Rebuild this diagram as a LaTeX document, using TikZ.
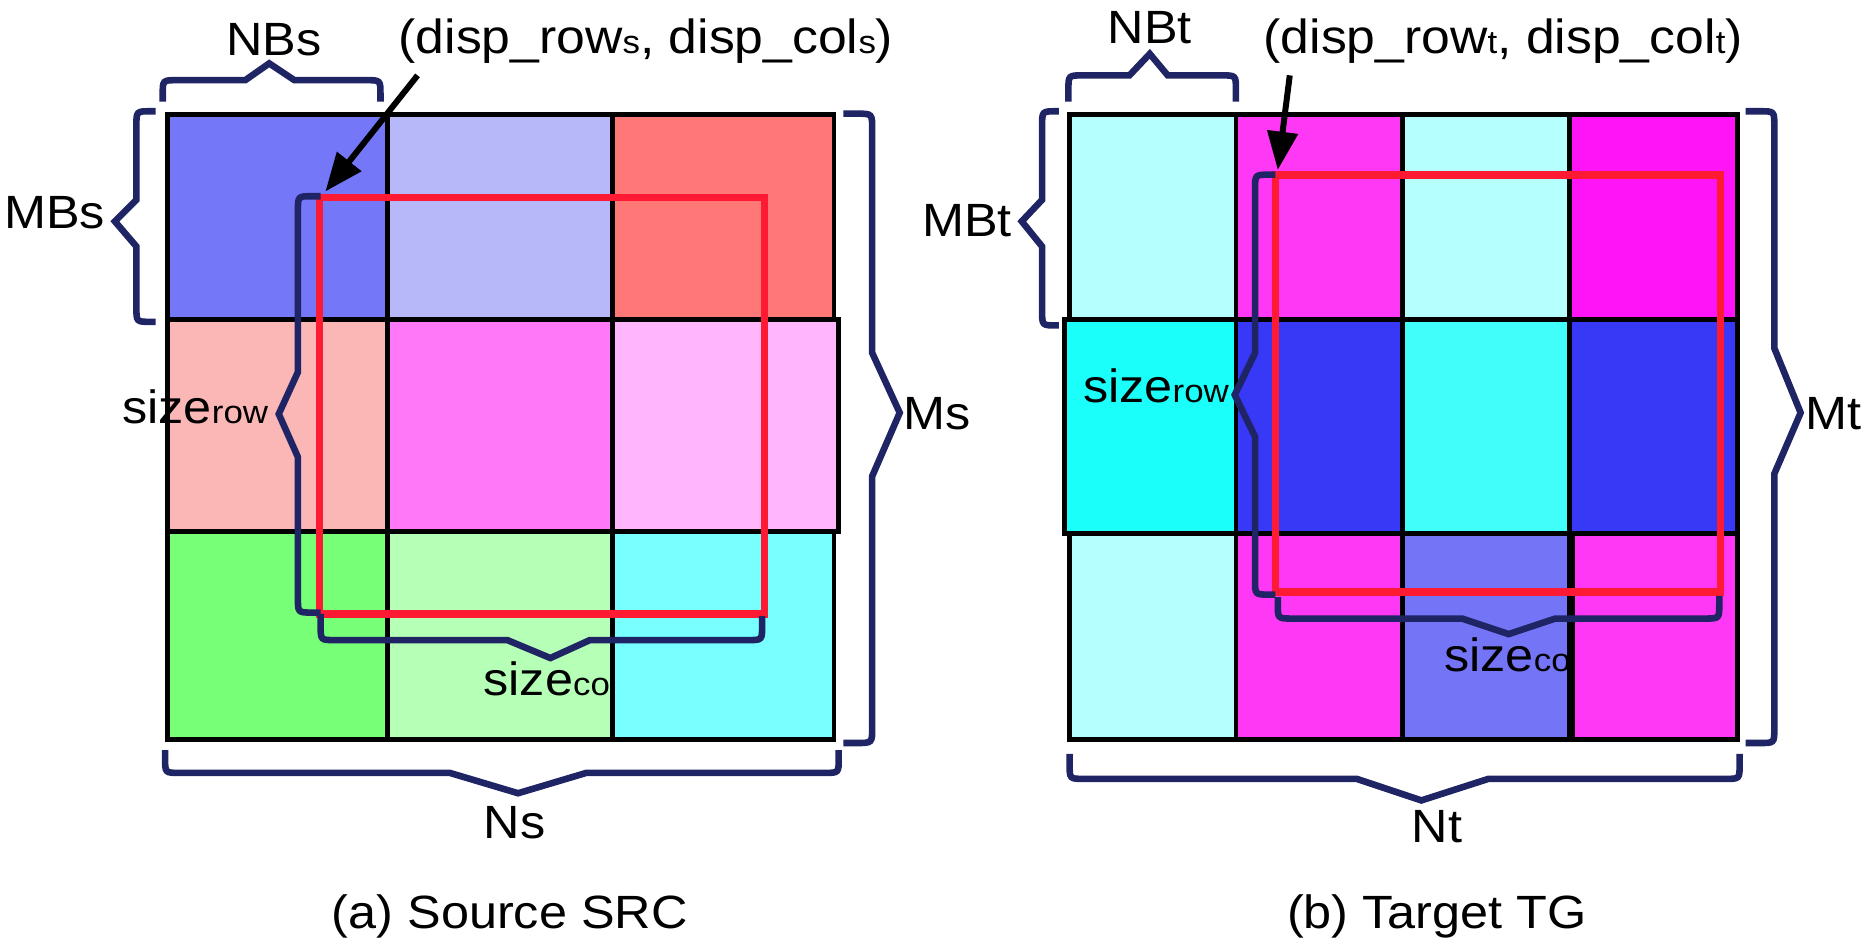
\documentclass[tikz,border=0pt]{standalone}
\usepackage{fontspec}
\setmainfont{Liberation Sans}[FakeStretch=1.08]
\usetikzlibrary{arrows.meta}
\definecolor{navyb}{RGB}{31,36,100}
\definecolor{redr}{RGB}{255,26,51}
\definecolor{sA}{RGB}{116,119,247}
\definecolor{sB}{RGB}{182,184,250}
\definecolor{sC}{RGB}{255,120,120}
\definecolor{sD}{RGB}{251,182,182}
\definecolor{sE}{RGB}{255,120,247}
\definecolor{sF}{RGB}{255,182,250}
\definecolor{sG}{RGB}{120,255,120}
\definecolor{sH}{RGB}{182,255,182}
\definecolor{sI}{RGB}{120,255,255}
\definecolor{tLC}{RGB}{182,255,255}
\definecolor{tMG}{RGB}{255,56,245}
\definecolor{tMB}{RGB}{255,20,247}
\definecolor{tCY}{RGB}{26,255,250}
\definecolor{tCZ}{RGB}{64,255,250}
\definecolor{tBL}{RGB}{56,56,247}
\definecolor{tPW}{RGB}{116,116,247}
\newcommand\mainsz{\fontsize{39}{45}\selectfont}
\newcommand\dispsz{\fontsize{40}{45}\selectfont}
\newcommand\subsz{\fontsize{27}{30}\selectfont}
\newcommand\subrow{\fontsize{27}{30}\selectfont}
\newcommand\cellbox[5]{\filldraw[cellst, fill=#5] (#1,#2) rectangle (#3,#4);}
\tikzset{
  cellst/.style={draw=black, line width=4pt},
  bracest/.style={draw=navyb, line width=5.5pt},
  redbox/.style={draw=redr, line width=6.5pt},
  ptr/.style={draw=black, line width=5pt, -{Triangle[length=32pt,width=25pt]}},
  lbl/.style={inner sep=0pt, font=\mainsz},
}
\begin{document}
\begin{tikzpicture}[x=1pt, y=-1pt]
\useasboundingbox (0,0) rectangle (1568,789);
% ---------------- left grid ----------------
\cellbox{140}{96}{324}{267}{sA}
\cellbox{324}{96}{512}{267}{sB}
\cellbox{512}{96}{697}{267}{sC}
\cellbox{140}{444}{324}{618}{sG}
\cellbox{324}{444}{512}{618}{sH}
\node[lbl, anchor=base west] (scolS) at (404,581) {size{\subrow col}};
\cellbox{512}{444}{697}{618}{sI}
\cellbox{140}{267}{324}{444}{sD}
\cellbox{324}{267}{512}{444}{sE}
\cellbox{512}{267}{701}{444}{sF}
% ---------------- right grid ----------------
\cellbox{894}{96}{1033}{267}{tLC}
\cellbox{1033}{96}{1172}{267}{tMG}
\cellbox{1172}{96}{1312}{267}{tLC}
\cellbox{1312}{96}{1452}{267}{tMB}
\cellbox{894}{446}{1033}{618}{tLC}
\cellbox{1033}{446}{1172}{618}{tMG}
\cellbox{1172}{446}{1312}{618}{tPW}
\node[lbl, anchor=base west] (scolT) at (1207,561) {size{\subrow col}};
\cellbox{1314}{446}{1452}{618}{tMG}
\cellbox{890}{267}{1033}{446}{tCY}
\cellbox{1033}{267}{1172}{446}{tBL}
\cellbox{1172}{267}{1312}{446}{tCZ}
\cellbox{1312}{267}{1452}{446}{tBL}
% ---------------- red windows ----------------
\draw[redbox] (267,165) rectangle (639,513);
\draw[redbox] (1066,146) rectangle (1438,495);
% ---------------- left braces ----------------
\draw[bracest] (136,85) -- (136,79) .. controls (136,67) .. (148,67) -- (205,67) -- (225,53) -- (246,67) -- (306,67) .. controls (318,67) .. (318,79) -- (318,85);
\draw[bracest] (130,93) -- (126,93) .. controls (114,93) .. (114,105) -- (114,167) -- (96,185) -- (114,206) -- (114,257) .. controls (114,269) .. (126,269) -- (130,269);
\draw[bracest] (705,95) -- (716,95) .. controls (729,95) .. (729,108) -- (729,295) -- (752,345) -- (729,398) -- (729,608) .. controls (729,621) .. (716,621) -- (705,621);
\draw[bracest] (138,627) -- (138,634) .. controls (138,646) .. (150,646) -- (376,646) -- (433,663) -- (490,646) -- (689,646) .. controls (701,646) .. (701,634) -- (701,627);
\draw[bracest] (268,164) -- (261,164) .. controls (249,164) .. (249,176) -- (249,311) -- (233,346) -- (249,382) -- (249,500) .. controls (249,512) .. (261,512) -- (268,512);
\draw[bracest] (268,513) -- (268,523) .. controls (268,535) .. (280,535) -- (424,535) -- (460,550) -- (493,535) -- (625,535) .. controls (637,535) .. (637,523) -- (637,515);
% ---------------- right braces ----------------
\draw[bracest] (893,85) -- (893,75) .. controls (893,63) .. (905,63) -- (944,63) -- (961,45) -- (976,63) -- (1021,63) .. controls (1033,63) .. (1033,75) -- (1033,85);
\draw[bracest] (885,93) -- (883,93) .. controls (871,93) .. (871,105) -- (871,167) -- (854,185) -- (871,206) -- (871,260) .. controls (871,272) .. (883,272) -- (885,272);
\draw[bracest] (1459,93) -- (1471,93) .. controls (1483,93) .. (1483,105) -- (1483,291) -- (1505,345) -- (1483,396) -- (1483,609) .. controls (1483,621) .. (1471,621) -- (1459,621);
\draw[bracest] (894,630) -- (894,639) .. controls (894,651) .. (906,651) -- (1134,651) -- (1188,669) -- (1244,651) -- (1442,651) .. controls (1454,651) .. (1454,639) -- (1454,630);
\draw[bracest] (1066,146) -- (1061,146) .. controls (1049,146) .. (1049,158) -- (1049,295) -- (1032,330) -- (1049,365) -- (1049,485) .. controls (1049,497) .. (1061,497) -- (1066,497);
\draw[bracest] (1068,499) -- (1068,505) .. controls (1068,517) .. (1080,517) -- (1222,517) -- (1261,530) -- (1300,517) -- (1425,517) .. controls (1437,517) .. (1437,505) -- (1437,498);
% ---------------- labels ----------------
\node[lbl, anchor=base] (nbs) at (229,46) {NBs};
\node[lbl, font=\dispsz, anchor=base west] (dispS) at (333,45) {(disp\_row{\subsz s}, disp\_col{\subsz s})};
\node[lbl, anchor=base east] (mbs) at (88,191) {MBs};
\node[lbl, anchor=base west] (ms) at (755,359) {Ms};
\node[lbl, anchor=base west] (srowS) at (102,354) {size{\subrow row}};
\node[lbl, anchor=base] (ns) at (430,701) {Ns};
\node[lbl, anchor=base] (capA) at (426,776) {(a) Source SRC};
\node[lbl, anchor=base] (nbt) at (961,36) {NBt};
\node[lbl, font=\dispsz, anchor=base west] (dispT) at (1056,45) {(disp\_row{\subsz t}, disp\_col{\subsz t})};
\node[lbl, anchor=base east] (mbt) at (846,198) {MBt};
\node[lbl, anchor=base west] (mt) at (1509,359) {Mt};
\node[lbl, anchor=base west] (srowT) at (905,336) {size{\subrow row}};
\node[lbl, anchor=base] (nt) at (1201,704) {Nt};
\node[lbl, anchor=base] (capB) at (1201,776) {(b) Target TG};
% ---------------- pointers ----------------
\coordinate (aS0) at (349,63);
\coordinate (aS1) at (272,160);
\coordinate (aT0) at (1078,63);
\coordinate (aT1) at (1068,142);
\draw[ptr] (aS0) -- (aS1);
\draw[ptr] (aT0) -- (aT1);
\end{tikzpicture}
\end{document}
